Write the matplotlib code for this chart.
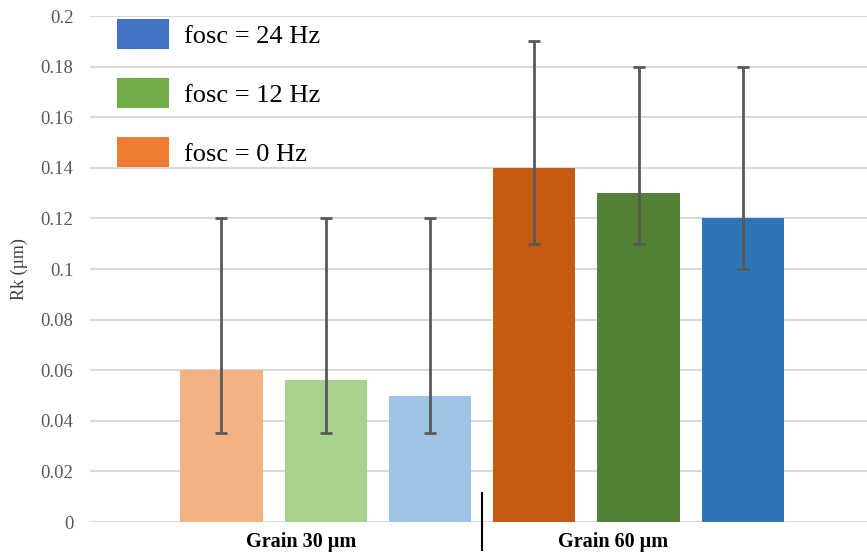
import numpy as np
import matplotlib.pyplot as plt
from matplotlib.patches import Patch

plt.rcParams['font.family'] = ['Liberation Serif', 'DejaVu Serif']

groups = ['Grain 30 µm', 'Grain 60 µm']
series = ['fosc = 0 Hz', 'fosc = 12 Hz', 'fosc = 24 Hz']
values = [[0.06, 0.056, 0.05],
          [0.14, 0.13, 0.12]]
err_low = [[0.035, 0.035, 0.035],
           [0.11, 0.11, 0.10]]
err_high = [[0.12, 0.12, 0.12],
            [0.19, 0.18, 0.18]]
bar_colors = [['#F4B183', '#A9D18E', '#9DC3E6'],
              ['#C55A11', '#538135', '#2E75B6']]
legend_colors = ['#ED7D31', '#70AD47', '#4472C4']
yticks = [0, 0.02, 0.04, 0.06, 0.08, 0.1, 0.12, 0.14, 0.16, 0.18, 0.2]

fig = plt.figure(figsize=(8.67, 5.58), dpi=100)
ax = fig.add_axes([0.1038, 0.0645, 0.8962, 0.9068])

for g in range(len(groups)):
    x = np.arange(3) + 3 * g
    v = np.array(values[g])
    lo = v - np.array(err_low[g])
    hi = np.array(err_high[g]) - v
    ax.bar(x, v, width=0.79, color=bar_colors[g], zorder=2)
    ax.errorbar(x, v, yerr=[lo, hi], fmt='none', ecolor='#595959',
                elinewidth=2, capsize=4, capthick=2, zorder=3)
    ax.text(x.mean() - 0.24, -0.04, groups[g], transform=ax.get_xaxis_transform(),
            ha='center', va='center', fontsize=14.5, fontweight='bold')

# group divider
ax.plot([2.5, 2.5], [0.057, -0.055], color='black', lw=1.5,
        transform=ax.get_xaxis_transform(), clip_on=False)

ax.set_xlim(-1.26, 6.19)
ax.set_ylim(0, 0.2)
ax.set_yticks(yticks)
ax.set_yticklabels(['0' if t == 0 else f'{t:g}' for t in yticks])
ax.set_xticks([])
ax.tick_params(axis='y', length=0, pad=12, labelsize=13.5, labelcolor='#595959')
ax.yaxis.grid(True, color='#D9D9D9', lw=1.5, zorder=0)
ax.set_axisbelow(True)
for s in ax.spines.values():
    s.set_visible(False)
ax.set_ylabel('Rk (µm)', fontsize=13, color='#404040', labelpad=9)

handles = [Patch(facecolor=c) for c in legend_colors[::-1]]
ax.legend(handles, series[::-1], loc='upper left', bbox_to_anchor=(0.032, 1.0),
          frameon=False, fontsize=19, handlelength=1.95, handleheight=1.4,
          labelspacing=1.08, handletextpad=0.58, borderaxespad=0, borderpad=0.1)

plt.savefig('out.png', dpi=100)
